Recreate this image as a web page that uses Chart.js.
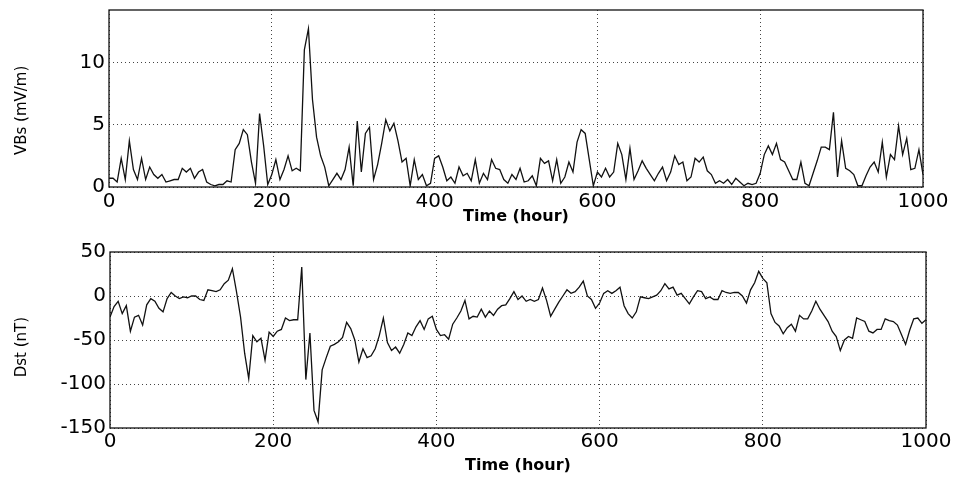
<!DOCTYPE html>
<html>
<head>
<meta charset="utf-8">
<script src="https://cdn.jsdelivr.net/npm/chart.js@4.4.1/dist/chart.umd.min.js"></script>
<style>
  html, body { margin: 0; padding: 0; background: #ffffff; }
  #wrap { position: relative; width: 957px; height: 477px; overflow: hidden; background: #fff; }
  canvas { position: absolute; left: 0; }
  #c1 { top: 0; }
  #c2 { top: 240px; }
</style>
</head>
<body>
<div id="wrap">
  <canvas id="c1" width="957" height="240"></canvas>
  <canvas id="c2" width="957" height="237"></canvas>
</div>
<script>
// ---- data (one value every 5 hours, 0..1000 h) ----
const STEP_HOURS = 5;

const vbs = [
  0.7,0.7,0.4,2.3,0.6,3.7,1.4,0.6,2.3,0.6,
  1.6,1.0,0.7,1.0,0.4,0.5,0.6,0.6,1.5,1.2,
  1.5,0.7,1.2,1.4,0.4,0.2,0.1,0.2,0.2,0.5,
  0.4,3.0,3.5,4.6,4.2,2.0,0.3,5.9,3.3,0.2,
  1.0,2.2,0.6,1.4,2.5,1.3,1.5,1.3,11.0,12.7,
  7.0,4.0,2.5,1.6,0.1,0.6,1.1,0.6,1.4,3.2,
  0.1,5.3,1.2,4.3,4.8,0.6,1.8,3.5,5.4,4.5,
  5.1,3.7,2.0,2.3,0.1,2.2,0.6,1.0,0.1,0.3,
  2.3,2.5,1.6,0.5,0.8,0.3,1.6,0.9,1.1,0.5,
  2.2,0.3,1.1,0.6,2.2,1.5,1.4,0.6,0.3,1.0,
  0.6,1.5,0.4,0.5,0.9,0.1,2.3,1.9,2.1,0.5,
  2.2,0.3,0.8,2.0,1.2,3.6,4.6,4.3,2.2,0.1,
  1.2,0.8,1.5,0.8,1.2,3.5,2.6,0.6,3.1,0.6,
  1.3,2.1,1.5,1.0,0.5,1.1,1.6,0.5,1.2,2.5,
  1.8,2.0,0.5,0.8,2.3,2.0,2.4,1.3,1.0,0.3,
  0.5,0.3,0.6,0.2,0.7,0.4,0.1,0.3,0.2,0.3,
  1.1,2.6,3.3,2.6,3.5,2.2,2.0,1.3,0.6,0.6,
  2.0,0.3,0.1,1.1,2.1,3.2,3.2,3.0,6.0,0.8,
  3.7,1.5,1.3,1.0,0.1,0.1,0.9,1.6,2.0,1.2,
  3.6,0.8,2.6,2.2,4.9,2.6,3.9,1.4,1.5,3.0,
  1.0
];

const dst = [
  -24,-12,-6,-20,-11,-40,-24,-22,-33,-10,
  -3,-6,-14,-18,-3,4,0,-3,-1,-2,
  0,0,-4,-5,7,6,5,7,14,18,
  31,5,-24,-65,-94,-45,-52,-48,-73,-41,
  -46,-40,-38,-25,-28,-27,-27,33,-95,-42,
  -130,-143,-84,-70,-57,-55,-52,-47,-30,-37,
  -50,-75,-60,-70,-68,-60,-45,-25,-53,-62,
  -58,-65,-55,-42,-45,-35,-28,-38,-26,-23,
  -38,-45,-44,-49,-32,-25,-17,-5,-26,-23,
  -24,-15,-24,-17,-22,-15,-11,-10,-3,5,
  -4,0,-6,-4,-6,-4,9,-5,-23,-15,
  -7,0,7,3,5,10,17,0,-4,-14,
  -8,3,6,3,6,10,-11,-20,-25,-18,
  -1,-2,-3,-1,1,6,14,8,10,1,
  3,-3,-9,-1,6,5,-3,-1,-4,-4,
  6,4,3,4,4,0,-8,7,15,28,
  20,15,-20,-30,-34,-43,-36,-32,-40,-22,
  -26,-26,-17,-6,-15,-22,-29,-40,-46,-62,
  -50,-46,-48,-25,-27,-29,-40,-42,-38,-38,
  -26,-28,-29,-33,-44,-55,-39,-26,-25,-31,
  -27
];

const hourTicks = [0, 200, 400, 600, 800, 1000];
const vbsTicks = [0, 5, 10];
const dstTicks = [-150, -100, -50, 0, 50];

const hours = vbs.map((_, i) => i * STEP_HOURS);

// ---- drawing ----
const frame = {
  id: 'frame',
  afterDatasetsDraw(chart) {
    const { ctx, chartArea: a } = chart;
    ctx.save();
    ctx.strokeStyle = '#111';
    ctx.lineWidth = 1.3;
    ctx.strokeRect(a.left, a.top, a.right - a.left, a.bottom - a.top);
    ctx.restore();
  }
};

const FONT = "'DejaVu Sans', 'Liberation Sans', sans-serif";
const plain = v => String(v);

function makeChart(canvasId, values, yTickVals, yMin, yMax, yTitle, g) {
  const points = hours.map((h, i) => ({ x: h, y: values[i] }));
  return new Chart(document.getElementById(canvasId), {
    type: 'line',
    data: {
      datasets: [{
        data: points,
        borderColor: '#111',
        borderWidth: 1.3,
        pointRadius: 0,
        tension: 0,
        fill: false
      }]
    },
    options: {
      responsive: false,
      animation: false,
      devicePixelRatio: 1,
      layout: { padding: g.padding },
      plugins: { legend: { display: false }, tooltip: { enabled: false } },
      scales: {
        x: {
          type: 'linear',
          min: 0, max: 1000,
          afterBuildTicks: s => { s.ticks = hourTicks.map(v => ({ value: v })); },
          afterFit: s => { s.height = g.xHeight; s.paddingLeft = 0; s.paddingRight = 0; },
          grid: { color: '#444', lineWidth: 1, drawTicks: false },
          border: { display: false, dash: [1, 3] },
          ticks: {
            color: '#000', padding: g.xTickPad, maxRotation: 0, autoSkip: false,
            font: { family: FONT, size: 20 },
            callback: plain
          },
          title: {
            display: true, text: 'Time (hour)', color: '#000',
            font: { family: FONT, size: 16, weight: 'bold' },
            padding: { top: 0, bottom: g.xTitlePad }
          }
        },
        y: {
          type: 'linear',
          min: yMin, max: yMax,
          afterBuildTicks: s => { s.ticks = yTickVals.map(v => ({ value: v })); },
          afterFit: s => { s.width = g.yWidth; s.paddingTop = 0; s.paddingBottom = 0; },
          grid: { color: '#444', lineWidth: 1, drawTicks: false },
          border: { display: false, dash: [1, 3] },
          ticks: {
            color: '#000', padding: 4,
            font: { family: FONT, size: 20 },
            callback: plain
          },
          title: {
            display: true, text: yTitle, color: '#000',
            font: { family: FONT, size: 15 },
            padding: { top: 13, bottom: 0 }
          }
        }
      }
    },
    plugins: [frame]
  });
}

makeChart('c1', vbs, vbsTicks, 0, 14.2, 'VBs (mV/m)     ', {
  padding: { top: 10, right: 34, left: 0, bottom: 0 },
  yWidth: 109, xHeight: 53, xTickPad: 3, xTitlePad: 14
});

makeChart('c2', dst, dstTicks, -150, 50, 'Dst (nT)   ', {
  padding: { top: 12, right: 31, left: 0, bottom: 0 },
  yWidth: 110, xHeight: 49, xTickPad: 2, xTitlePad: 2
});
</script>
</body>
</html>
